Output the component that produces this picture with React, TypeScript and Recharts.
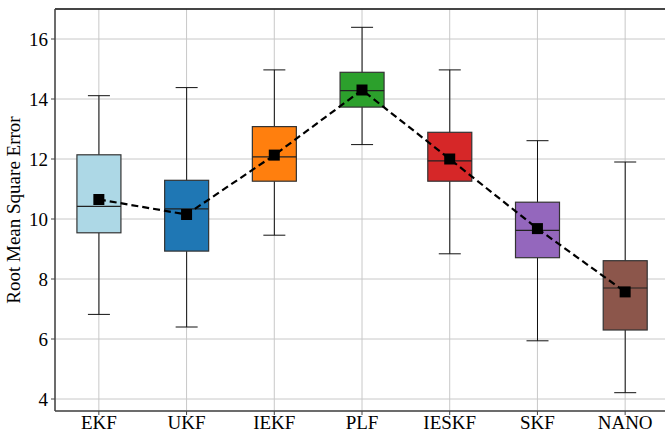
import React from 'react';
import { ComposedChart, Bar, Line, XAxis, YAxis, CartesianGrid, ReferenceLine } from 'recharts';

const categories = ['EKF', 'UKF', 'IEKF', 'PLF', 'IESKF', 'SKF', 'NANO'];
const whiskerLow = [6.82, 6.4, 9.46, 12.48, 8.84, 5.94, 4.21];
const q1 = [9.54, 8.93, 11.26, 13.73, 11.26, 8.71, 6.3];
const median = [10.42, 10.34, 12.07, 14.28, 11.94, 9.62, 7.7];
const q3 = [12.14, 11.29, 13.08, 14.89, 12.89, 10.56, 8.61];
const whiskerHigh = [14.11, 14.38, 14.97, 16.39, 14.97, 12.61, 11.9];
const mean = [10.65, 10.15, 12.13, 14.3, 12.0, 9.68, 7.57];
const colors = ['#add8e6', '#1f77b4', '#ff7f0e', '#2ca02c', '#d62728', '#9467bd', '#8c564b'];
const yTicks = [4, 6, 8, 10, 12, 14, 16];

const data = categories.map((name, i) => ({
  name,
  low: whiskerLow[i],
  q1: q1[i],
  median: median[i],
  q3: q3[i],
  high: whiskerHigh[i],
  mean: mean[i],
  color: colors[i],
}));

const font = '"Liberation Serif", "Times New Roman", serif';

// the bar spans low..high; inner values are placed on the same linear scale
const BoxShape = (props: any) => {
  const { x, y, width, height, payload } = props;
  const top = Math.min(y, y + height);
  const h = Math.abs(height);
  const span = payload.high - payload.low;
  const py = (v: number) => top + ((payload.high - v) / span) * h;
  const cx = x + width / 2;
  const cap = width / 4;
  return (
    <g>
      <line x1={cx} x2={cx} y1={py(payload.high)} y2={py(payload.q3)} stroke="#111" strokeWidth={1} />
      <line x1={cx} x2={cx} y1={py(payload.q1)} y2={py(payload.low)} stroke="#111" strokeWidth={1} />
      <line x1={cx - cap} x2={cx + cap} y1={py(payload.high)} y2={py(payload.high)} stroke="#111" strokeWidth={1} />
      <line x1={cx - cap} x2={cx + cap} y1={py(payload.low)} y2={py(payload.low)} stroke="#111" strokeWidth={1} />
      <rect
        x={x}
        y={py(payload.q3)}
        width={width}
        height={py(payload.q1) - py(payload.q3)}
        fill={payload.color}
        stroke="#333"
        strokeWidth={1.2}
      />
      <line x1={x} x2={x + width} y1={py(payload.median)} y2={py(payload.median)} stroke="#222" strokeWidth={1.2} />
    </g>
  );
};

const SquareDot = (props: any) => {
  const { cx, cy } = props;
  if (cx == null || cy == null) return null;
  return <rect x={cx - 5.5} y={cy - 5.5} width={11} height={11} fill="#000" />;
};

export default function App() {
  return (
    <div style={{ position: 'absolute', left: 0, top: 0, width: 665, height: 438, overflow: 'hidden', background: '#fff' }}>
      <ComposedChart
        width={680}
        height={438}
        data={data}
        margin={{ top: 9, right: 11, bottom: 0, left: 0 }}
        barCategoryGap="25%"
        style={{ fontFamily: font }}
      >
        <CartesianGrid stroke="#c8c8c8" strokeWidth={1} />
        <XAxis
          dataKey="name"
          height={27}
          tickSize={4}
          tickMargin={1}
          tick={{ fill: '#000', fontSize: 19, fontFamily: font }}
          axisLine={{ stroke: '#444', strokeWidth: 1.5 }}
          tickLine={{ stroke: '#444' }}
          interval={0}
        />
        <YAxis
          type="number"
          domain={[3.6, 17.0]}
          ticks={yTicks}
          width={55}
          tickSize={4}
          tickMargin={3}
          tick={{ fill: '#000', fontSize: 19, fontFamily: font }}
          axisLine={{ stroke: '#444', strokeWidth: 1.5 }}
          tickLine={{ stroke: '#444' }}
          label={{
            value: 'Root Mean Square Error',
            angle: -90,
            position: 'insideLeft',
            offset: 13,
            style: { textAnchor: 'middle', fill: '#000', fontSize: 19, fontFamily: font },
          }}
        />
        <ReferenceLine y={17.0} stroke="#111" strokeWidth={1.5} />
        <Bar dataKey={(d: any) => [d.low, d.high]} shape={<BoxShape />} isAnimationActive={false} />
        <Line
          dataKey="mean"
          stroke="#000"
          strokeWidth={2.2}
          strokeDasharray="7 4"
          dot={<SquareDot />}
          activeDot={false}
          isAnimationActive={false}
        />
      </ComposedChart>
    </div>
  );
}
